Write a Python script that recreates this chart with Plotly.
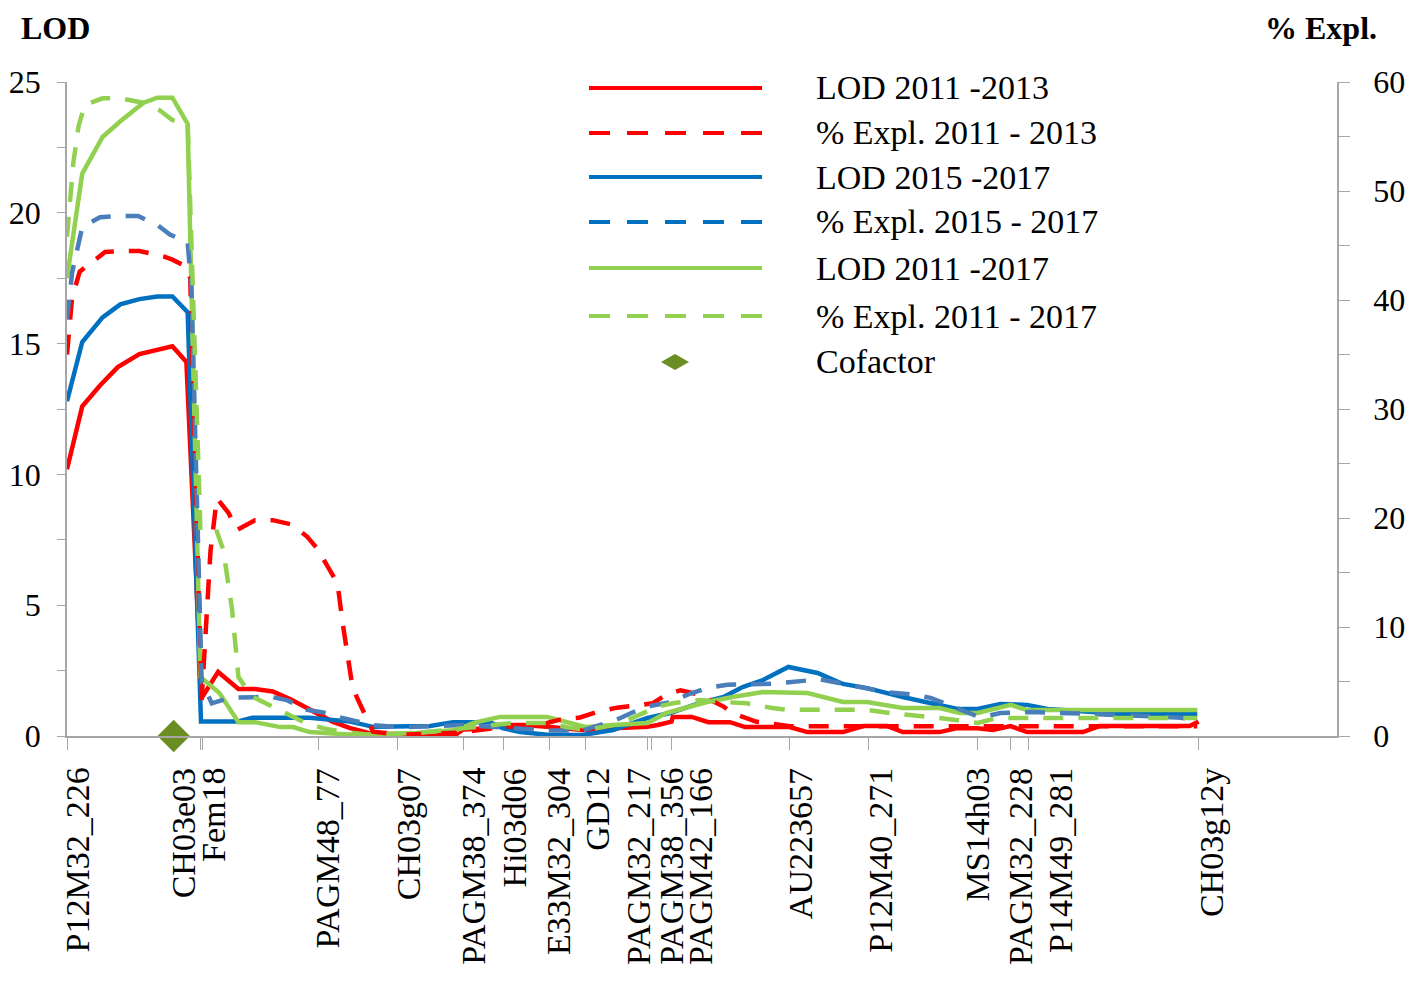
import plotly.graph_objects as go

# marker map (cM) and marker names
markers = ['P12M32_226', 'CH03e03', 'Fem18', 'PAGM48_77', 'CH03g07', 'PAGM38_374',
           'Hi03d06', 'E33M32_304', 'GD12', 'PAGM32_217', 'PAGM38_356', 'PAGM42_166',
           'AU223657', 'P12M40_271', 'MS14h03', 'PAGM32_228', 'P14M49_281', 'CH03g12y']
marker_cm = [0.0, 10.5, 10.7, 19.8, 26.0, 31.2, 34.4, 38.0, 40.8, 45.7, 46.0, 47.6,
             56.9, 63.1, 71.7, 74.3, 75.7, 89.1]

# LOD 2011-2013
lod1113_cm = [0.0, 1.2, 2.6, 4.0, 5.7, 8.3, 9.4, 10.6, 11.9, 13.5, 14.8, 16.2, 17.6, 19.1,
              20.9, 22.3, 23.9, 27.8, 30.6, 31.2, 33.3, 33.9, 35.9, 37.8, 40.6, 43.0, 45.7,
              46.5, 47.6, 47.7, 49.2, 50.5, 52.2, 53.4, 56.9, 58.3, 61.1, 62.7, 64.6, 65.8,
              68.7, 70.1, 71.7, 72.9, 74.3, 75.6, 80.0, 81.3, 88.4, 89.1]
lod1113 = [10.2, 12.6, 13.4, 14.1, 14.6, 14.9, 14.3, 1.45, 2.45, 1.8, 1.8, 1.7, 1.4, 1.0,
           0.55, 0.3, 0.1, 0.05, 0.05, 0.25, 0.3, 0.42, 0.42, 0.35, 0.23, 0.3, 0.35,
           0.42, 0.55, 0.73, 0.73, 0.53, 0.53, 0.34, 0.34, 0.15, 0.15, 0.38, 0.38, 0.15,
           0.15, 0.3, 0.3, 0.23, 0.38, 0.15, 0.15, 0.38, 0.38, 0.55]

# % Expl. 2011-2013
pev1113_cm = [0.0, 0.4, 1.0, 2.0, 3.0, 4.7, 5.7, 7.6, 8.3, 9.3, 9.7, 10.6, 11.3, 11.8, 12.7,
              13.4, 14.8, 16.2, 17.7, 18.9, 19.7, 21.3, 21.7, 22.4, 22.8, 24.1, 26.2, 30.9,
              34.1, 36.5, 37.8, 38.8, 40.4, 41.7, 43.3, 44.9, 46.1, 47.2, 48.3, 49.8, 51.7,
              52.4, 54.3, 55.1, 56.9, 89.0]
pev1113 = [35.0, 40.2, 42.6, 43.5, 44.4, 44.5, 44.5, 44.0, 43.7, 43.1, 42.0, 3.3, 17.0, 21.8,
           20.5, 18.9, 19.8, 19.8, 19.4, 18.3, 17.2, 14.0, 10.4, 5.1, 3.6, 0.4, 0.1, 0.3,
           0.8, 1.0, 1.2, 1.5, 1.7, 2.2, 2.6, 2.8, 3.0, 3.8, 4.2, 3.8, 2.7,
           2.1, 1.3, 1.2, 0.9, 0.9]

# LOD 2015-2017
lod1517_cm = [0.0, 1.2, 2.8, 4.2, 5.7, 7.1, 8.3, 9.5, 10.55, 13.4, 14.6, 19.1, 22.3, 24.1,
              28.6, 30.4, 33.3, 34.3, 35.7, 38.0, 40.6, 43.0, 45.7, 47.5, 49.8, 51.7, 53.2,
              54.8, 56.8, 59.1, 61.1, 63.0, 65.8, 68.5, 70.1, 71.7, 73.5, 75.6, 77.2, 83.1, 89.0]
lod1517 = [12.8, 15.06, 16.0, 16.5, 16.7, 16.8, 16.8, 16.2, 0.55, 0.55, 0.7, 0.7, 0.55, 0.35,
           0.38, 0.53, 0.53, 0.3, 0.15, 0.04, 0.04, 0.23, 0.69, 0.88, 1.26, 1.49, 1.87,
           2.14, 2.64, 2.41, 1.99, 1.83, 1.49, 1.19, 1.03, 1.03, 1.22, 1.19, 1.03, 0.84, 0.84]

# % Expl. 2015-2017
pev1517_cm = [0.0, 0.4, 1.2, 2.6, 4.2, 5.6, 7.1, 8.1, 9.5, 9.8, 10.6, 11.4, 12.8, 14.4, 16.0,
              17.3, 18.9, 20.5, 21.5, 24.1, 26.2, 31.2, 34.1, 38.0, 40.6, 43.3, 44.6, 46.1,
              47.5, 49.1, 50.4, 52.0, 55.6, 57.9, 59.3, 64.6, 66.6, 68.0, 71.9, 73.5, 76.1,
              81.1, 87.4, 89.0]
pev1517 = [38.2, 42.5, 46.7, 47.6, 47.7, 47.7, 46.9, 46.0, 45.3, 41.0, 5.0, 3.0, 3.5, 3.6, 3.6,
           3.3, 2.4, 2.1, 1.7, 1.0, 0.8, 1.0, 0.8, 0.5, 0.5, 1.5, 2.2, 2.8,
           3.1, 3.9, 4.4, 4.7, 4.8, 5.0, 5.2, 4.0, 3.8, 3.5, 1.7, 2.1, 2.2,
           2.0, 1.7, 1.5]

# LOD 2011-2017
lod1117_cm = [0.0, 1.2, 2.8, 4.2, 6.0, 7.1, 8.3, 9.5, 10.5, 12.0, 13.5, 14.8, 16.8, 17.8,
              19.1, 22.8, 27.2, 30.7, 32.0, 34.1, 37.8, 40.9, 43.0, 45.7, 47.2, 50.4, 52.4,
              54.8, 58.3, 61.1, 63.0, 65.8, 68.7, 70.3, 71.7, 74.3, 75.6, 89.0]
lod1117 = [17.5, 21.5, 22.9, 23.5, 24.2, 24.4, 24.4, 23.4, 2.26, 1.64, 0.53, 0.53, 0.34, 0.34,
           0.15, 0.04, 0.11, 0.23, 0.5, 0.73, 0.73, 0.34, 0.42, 0.5, 0.88, 1.3, 1.49,
           1.68, 1.64, 1.3, 1.3, 1.07, 1.07, 0.88, 0.88, 1.19, 0.99, 0.99]

# % Expl. 2011-2017
pev1117_cm = [0.0, 0.5, 0.9, 1.4, 2.8, 4.2, 6.0, 7.3, 8.3, 9.5, 10.5, 11.7, 12.3, 13.0, 13.5,
              14.6, 16.0, 17.3, 18.6, 20.2, 21.7, 23.9, 27.8, 32.0, 35.1, 37.8, 39.4, 40.9,
              43.0, 44.6, 46.5, 47.7, 49.8, 52.0, 53.5, 55.4, 56.7, 63.0, 64.8, 68.7, 71.7,
              73.2, 89.0]
pev1117 = [45.8, 52.6, 55.9, 57.9, 58.5, 58.5, 58.1, 57.4, 56.5, 56.2, 19.1, 19.1, 17.1, 11.6, 5.4,
           3.6, 2.8, 2.1, 1.3, 0.7, 0.4, 0.1, 0.3, 0.8, 1.2, 1.2, 0.8, 0.55,
           1.0, 1.7, 2.7, 3.0, 3.3, 3.1, 3.0, 2.6, 2.4, 2.4, 2.1, 1.65, 1.2,
           1.65, 1.65]

cofactor_cm = [8.4]
cofactor_lod = [0.0]

legend_names = ['LOD 2011 -2013', '% Expl. 2011 - 2013', 'LOD 2015 -2017',
                '% Expl. 2015 - 2017', 'LOD 2011 -2017', '% Expl. 2011 - 2017', 'Cofactor']

RED = '#FF0000'
BLUE = '#0070C0'
BLUE_D = '#4A7EBB'
GREEN = '#92D050'
OLIVE = '#6B8E23'
GRAY = '#A6A6A6'
FONT = 'Liberation Serif'
DASH = '20px,15px'

# label nudges (px) so crowded marker names don't overlap
label_nudge = [10, -17, 10, 9, 11, 10, 11, 9, 12, -9, 20, 29, 11, 12, -1, 10, 32, 13]

fig = go.Figure()
fig.add_trace(go.Scatter(x=lod1113_cm, y=lod1113, mode='lines', name=legend_names[0],
                         line=dict(color=RED, width=4.5), yaxis='y'))
fig.add_trace(go.Scatter(x=pev1113_cm, y=pev1113, mode='lines', name=legend_names[1],
                         line=dict(color=RED, width=4.5, dash=DASH), yaxis='y2'))
fig.add_trace(go.Scatter(x=lod1517_cm, y=lod1517, mode='lines', name=legend_names[2],
                         line=dict(color=BLUE, width=4.5), yaxis='y'))
fig.add_trace(go.Scatter(x=pev1517_cm, y=pev1517, mode='lines', name=legend_names[3],
                         line=dict(color=BLUE_D, width=4.5, dash=DASH), yaxis='y2'))
fig.add_trace(go.Scatter(x=lod1117_cm, y=lod1117, mode='lines', name=legend_names[4],
                         line=dict(color=GREEN, width=4.5), yaxis='y'))
fig.add_trace(go.Scatter(x=pev1117_cm, y=pev1117, mode='lines', name=legend_names[5],
                         line=dict(color=GREEN, width=4.5, dash=DASH), yaxis='y2'))
fig.add_trace(go.Scatter(x=cofactor_cm, y=cofactor_lod, mode='markers', name=legend_names[6],
                         marker=dict(symbol='diamond', size=25, color=OLIVE), yaxis='y',
                         cliponaxis=False))

# plot area in pixels: x 67..1337, y 82..736
def px_x(p):
	return (p - 67) / 1270

def px_y(p):
	return (736 - p) / 654

# hand-drawn legend (long line samples like the original)
leg_rows = [88, 133, 177, 222, 268, 316, 362]
leg_styles = [(RED, None), (RED, '21px,17px'), (BLUE, None), (BLUE, '21px,17px'),
              (GREEN, None), (GREEN, '21px,17px')]
shapes = []
for i, (col, dash) in enumerate(leg_styles):
	ln = dict(color=col, width=4)
	if dash:
		ln['dash'] = dash
	shapes.append(dict(type='line', xref='paper', yref='paper',
					   x0=px_x(589), x1=px_x(762), y0=px_y(leg_rows[i]), y1=px_y(leg_rows[i]),
					   line=ln))
cx, cy = 675, leg_rows[6]
path = 'M {},{} L {},{} L {},{} L {},{} Z'.format(
	px_x(cx - 14), px_y(cy), px_x(cx), px_y(cy - 8),
	px_x(cx + 14), px_y(cy), px_x(cx), px_y(cy + 8))
shapes.append(dict(type='path', xref='paper', yref='paper', path=path,
				   fillcolor=OLIVE, line=dict(width=0)))

annotations = []
for i, name in enumerate(legend_names):
	annotations.append(dict(text=name, xref='paper', yref='paper', x=px_x(814), y=px_y(leg_rows[i]),
							xanchor='left', yanchor='middle', showarrow=False,
							font=dict(family=FONT, size=34, color='black')))

# marker names under the axis
for m, pos, dx in zip(markers, marker_cm, label_nudge):
	annotations.append(dict(text=m, x=pos, xref='x', y=0, yref='paper', yanchor='top',
							xanchor='center', yshift=-30, xshift=dx, textangle=-90,
							showarrow=False, font=dict(family=FONT, size=34, color='black')))

annotations.append(dict(text='<b>LOD</b>', xref='paper', yref='paper', x=0, y=1, xshift=-48,
						yshift=54, xanchor='left', yanchor='middle', showarrow=False,
						font=dict(family=FONT, size=32, color='black')))
annotations.append(dict(text='<b>% Expl.</b>', xref='paper', yref='paper', x=1, y=1, xshift=42,
						yshift=54, xanchor='right', yanchor='middle', showarrow=False,
						font=dict(family=FONT, size=32, color='black')))

tickfont = dict(family=FONT, size=32, color='black')

fig.update_layout(
	width=1410, height=978,
	margin=dict(l=59, r=81, t=74, b=250, autoexpand=False),
	paper_bgcolor='white', plot_bgcolor='white',
	showlegend=False,
	shapes=shapes,
	annotations=annotations,
	xaxis=dict(range=[0, 100], tickmode='array', tickvals=marker_cm, ticktext=[''] * len(marker_cm),
			   ticks='outside', ticklen=12, tickcolor=GRAY, tickwidth=1.3, automargin=False,
			   showline=True, linecolor=GRAY, linewidth=1.5, showgrid=False, zeroline=False),
	yaxis=dict(range=[0, 25], dtick=5, tick0=0, ticks='outside', ticklen=8, tickcolor=GRAY,
			   tickwidth=1.3, showline=True, linecolor=GRAY, linewidth=1.5, showgrid=False,
			   zeroline=False, tickfont=tickfont, ticklabelstandoff=10, automargin=False,
			   minor=dict(dtick=2.5, tick0=0, ticks='outside', ticklen=8, tickcolor=GRAY)),
	yaxis3=dict(range=[0, 25], overlaying='y', side='left', anchor='x', dtick=5, tick0=0,
				ticks='inside', ticklen=11, tickcolor=GRAY, tickwidth=1.3, showticklabels=False,
				showline=False, showgrid=False, zeroline=False, automargin=False,
				minor=dict(dtick=2.5, tick0=0, ticks='inside', ticklen=11, tickcolor=GRAY)),
	yaxis2=dict(range=[0, 60], overlaying='y', side='right', anchor='x', dtick=10, tick0=0,
				ticks='outside', ticklen=11, tickcolor=GRAY, tickwidth=1.3, showline=True,
				linecolor=GRAY, linewidth=1.5, showgrid=False, zeroline=False,
				tickfont=tickfont, ticklabelstandoff=17, automargin=False,
				minor=dict(dtick=5, tick0=0, ticks='outside', ticklen=11, tickcolor=GRAY)),
	yaxis4=dict(range=[0, 60], overlaying='y', side='right', anchor='x', dtick=10, tick0=0,
				ticks='inside', ticklen=9, tickcolor=GRAY, tickwidth=1.3, showticklabels=False,
				showline=False, showgrid=False, zeroline=False, automargin=False,
				minor=dict(dtick=5, tick0=0, ticks='inside', ticklen=9, tickcolor=GRAY)),
)

fig.write_html('out.html')
